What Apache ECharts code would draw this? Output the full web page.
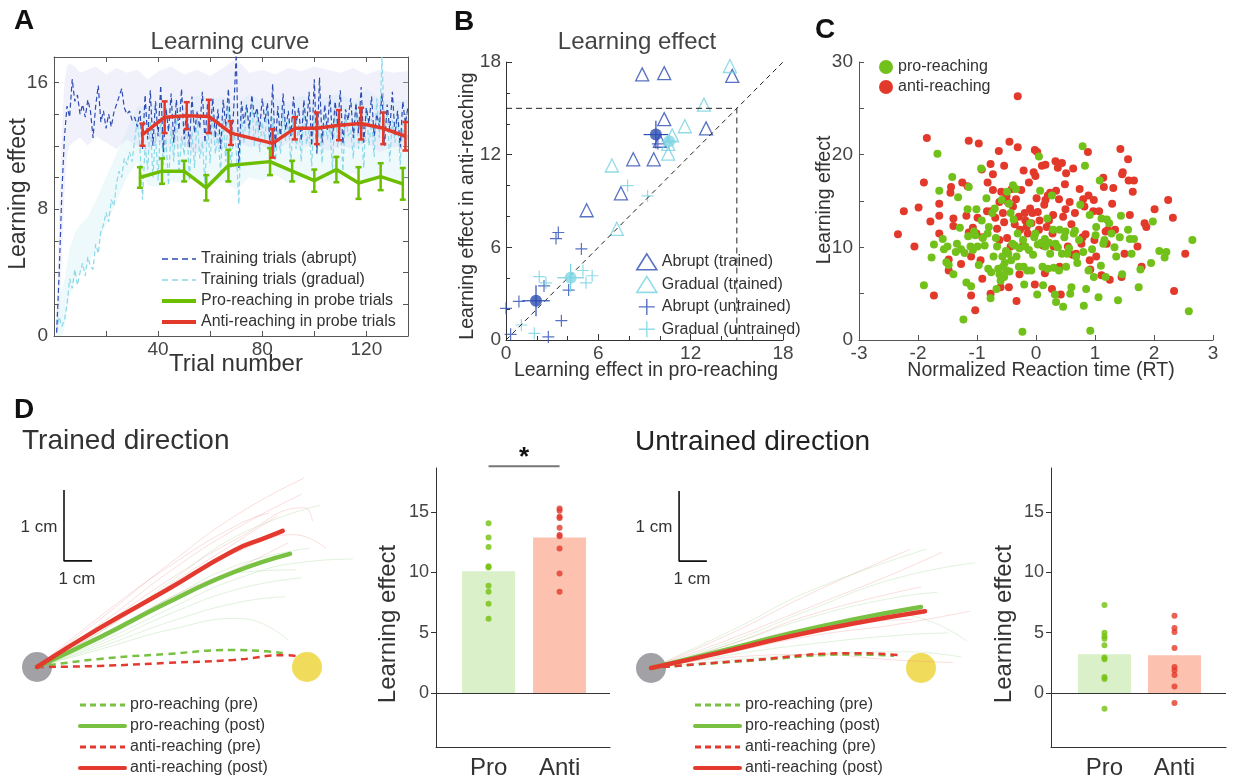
<!DOCTYPE html>
<html><head><meta charset="utf-8">
<script src="https://cdn.jsdelivr.net/npm/echarts@6/dist/echarts.min.js"></script>
<style>html,body{margin:0;padding:0;background:#fff}#c{width:1234px;height:782px}</style>
</head><body><div id="c"></div>
<script>
const FONT = "'Liberation Sans', Arial, Helvetica, sans-serif";
// ---------- Panel A data ----------
const trainAbrupt = [0.2,4.0,9.0,12.5,14.5,13.8,16.2,14.8,15.2,14.0,
14.6,13.8,14.9,14.2,12.5,14.5,15.8,13.5,14.2,13.1,
14.0,13.2,14.1,14.6,15.1,15.6,14.4,14.0,14.2,13.6,
13.8,13.2,14.2,11.8,15.2,12.4,15.5,12.0,14.8,12.6,
15.8,11.6,14.4,12.9,15.3,12.2,14.9,13.0,15.6,12.4,
14.6,11.9,15.1,12.8,14.2,13.1,15.4,12.2,14.7,12.8,
15.0,12.5,14.3,11.8,14.9,13.2,15.6,12.4,14.1,17.8,
10.6,14.8,13.4,14.6,13.1,15.2,13.8,14.4,13.0,15.0,
13.5,14.7,12.1,15.9,11.8,14.5,12.4,15.3,13.0,14.2,
12.6,15.1,13.4,14.4,12.3,14.9,13.1,15.4,12.0,16.2,
11.5,16.3,12.2,14.6,13.0,15.2,12.4,14.8,13.3,15.5,
12.1,14.3,13.6,15.0,12.5,14.7,12.8,15.7,12.2,14.4,
13.4,15.1,12.6,14.0,13.2,15.3,12.0,14.6,13.0,15.4,
12.7,14.2,11.9,14.8,13.4,14.5];
const trainGradual = [0.3,1.2,0.6,1.0,2.0,3.6,3.0,4.2,3.2,4.0,
4.6,3.8,5.0,4.4,4.2,5.8,5.2,6.6,7.0,7.8,
7.2,8.6,8.2,9.6,10.4,10.0,11.2,10.8,11.6,11.0,
12.4,13.6,12.0,8.6,12.0,10.5,13.5,10.0,12.8,9.8,
13.8,10.8,12.5,9.5,13.2,11.0,14.2,10.2,12.6,11.4,
13.6,9.8,12.9,10.6,13.9,11.2,12.3,9.6,13.4,10.9,
14.0,11.5,12.8,10.3,13.7,11.0,14.4,10.6,13.0,11.8,
8.3,14.0,12.2,14.4,12.6,14.8,12.0,14.2,11.6,13.5,
12.4,14.6,11.2,13.8,10.8,13.1,11.5,14.3,12.3,13.6,
10.9,14.1,11.8,13.3,11.0,14.5,12.1,13.0,10.7,14.2,
11.6,13.4,10.9,14.0,12.4,13.2,10.5,14.6,11.9,13.5,
10.4,14.1,12.6,13.0,11.2,14.7,11.8,13.3,10.6,14.4,
12.0,13.7,11.3,15.0,12.5,17.6,12.8,14.2,11.0,13.6,
12.2,14.0,10.8,13.4,11.7,12.9];
const bandTrials  = [1,2,3,4,5,6,8,10,13,16,20,24,28,32,36,40,45,50,55,60,65,70,75,80,85,90,95,100,105,110,115,120,125,130,136];
const abruptLow   = [0,1,5,9,11.5,12,12.3,12.5,12.0,12.6,12.2,11.8,12.4,12.0,11.6,12.2,11.8,12.0,11.5,12.1,11.8,12.3,11.9,12.0,11.6,12.2,11.9,12.1,11.7,12.0,11.8,12.2,11.6,11.9,12.0];
const abruptHigh  = [1,8,13,16,17,17.2,17.0,16.6,16.8,17.0,16.5,16.9,16.6,16.8,16.2,16.7,17.0,16.5,16.8,16.4,16.9,17.5,16.6,16.8,16.5,16.9,16.7,17.0,16.8,16.6,16.9,16.5,16.8,16.6,16.7];
const gradualLow  = [0,0,0,0.5,1.5,2.5,3.5,4,4.5,5.5,7,8.5,10,11,9.5,9.4,9.8,9.6,10.0,9.5,9.8,9.2,10.0,9.8,10.2,9.6,9.9,10.1,9.7,9.9,10.3,9.8,10.0,9.7,9.9];
const gradualHigh = [1.5,2.5,3,3.5,4.5,5.5,6.5,7,7.5,8.5,10,11.5,13,14.5,14.5,14.8,15.0,14.6,15.2,14.9,15.1,14.6,15.3,14.8,15.0,14.7,15.2,14.9,15.1,15.3,14.8,15.6,15.0,14.8,14.9];
const proProbeTrials  = [33,41.5,50,58.5,67,83,91.5,100,108.5,117,125.5,134];
const proProbe        = [10.0,10.4,10.4,9.35,10.75,11.0,10.4,9.8,10.5,9.65,10.05,9.6];
const proProbeErr     = [0.65,0.8,0.65,0.8,1.0,0.85,0.65,0.7,0.8,1.0,0.85,1.0];
const antiProbeTrials = [34,42.5,51,59.5,68,84,92.5,101,109.5,118,126.5,135];
const antiProbe       = [12.7,13.8,13.9,13.85,12.8,12.15,13.1,13.1,13.3,13.4,13.1,12.6];
const antiProbeErr    = [0.7,1.0,0.85,1.05,0.75,0.9,0.7,1.0,0.95,1.0,1.0,0.9];

// ---------- Panel B data ----------
const abruptTrained = [[8.85,17.2],[10.28,17.28],[14.7,17.1],[10.28,14.3],[13.0,13.7],[10.0,12.9],[8.27,11.7],[9.6,11.7],[7.47,9.5],[5.24,8.4]];
const gradualTrained = [[14.55,17.74],[12.86,15.24],[11.62,13.84],[10.8,13.25],[10.54,12.7],[10.54,12.07],[6.88,11.3],[7.2,7.2]];
const abruptUntrained = [[0.0,2.05],[0.3,0.37],[0.84,2.5],[2.47,3.5],[3.4,6.96],[3.25,6.57],[4.9,5.9],[4.07,3.23],[3.6,1.25],[2.75,0.2],[9.87,12.7]];
const gradualUntrained = [[7.9,10.0],[9.2,9.33],[2.16,4.1],[2.6,3.7],[5.0,4.5],[5.6,4.16],[5.2,3.7],[1.84,0.43],[1.0,0.97]];
const abruptMeans  = [[9.74,13.3,0.8,0.9],[1.95,2.54,0.9,1.0]];   // x, y, xErr, yErr
const gradualMeans = [[10.6,12.87,0.5,0.5],[4.2,4.03,0.87,0.9]];
const diagLine = [[0,0],[18,18]];
const refLine  = [[0,15],[15,15],[15,0]];

// ---------- Panel C data ----------
const proRT = [[-1.90,5.9],[-1.77,8.9],[-1.73,10.3],[-1.67,20.1],[-1.64,16.1],[-1.58,10.9],[-1.56,9.8],[-1.52,8.4],[-1.50,10.1],[-1.48,8.1],[-1.42,17.6],[-1.40,7.1],[-1.36,9.5],[-1.34,10.4],[-1.32,15.4],[-1.29,12.1],[-1.27,9.8],[-1.23,2.2],[-1.21,9.4],[-1.18,6.2],[-1.16,14.1],[-1.15,11.2],[-1.14,16.5],[-1.11,10.1],[-1.10,5.8],[-1.07,9.7],[-1.05,11.7],[-1.03,11.3],[-1.01,14.1],[-0.99,10.1],[-0.97,8.1],[-0.93,18.5],[-0.92,12.9],[-0.90,11.0],[-0.87,10.2],[-0.84,15.3],[-0.82,11.5],[-0.81,7.7],[-0.80,12.2],[-0.77,4.5],[-0.76,7.3],[-0.74,13.7],[-0.72,9.0],[-0.70,14.2],[-0.68,11.0],[-0.67,5.5],[-0.66,10.1],[-0.64,7.7],[-0.62,7.1],[-0.60,6.4],[-0.58,15.1],[-0.57,9.0],[-0.56,7.9],[-0.54,6.8],[-0.53,8.3],[-0.51,9.6],[-0.50,7.5],[-0.49,16.0],[-0.47,9.3],[-0.46,14.7],[-0.45,7.4],[-0.43,13.7],[-0.42,8.6],[-0.40,10.4],[-0.39,16.7],[-0.38,13.0],[-0.36,10.2],[-0.34,16.3],[-0.33,9.0],[-0.31,11.5],[-0.29,7.9],[-0.28,9.9],[-0.23,0.9],[-0.22,10.8],[-0.21,7.9],[-0.20,6.0],[-0.18,10.1],[-0.15,7.5],[-0.12,9.7],[-0.10,12.6],[-0.08,7.5],[-0.05,9.2],[-0.03,11.1],[-0.01,11.5],[0.02,4.9],[0.03,10.3],[0.05,19.8],[0.07,16.1],[0.09,10.5],[0.11,7.9],[0.12,5.9],[0.15,10.9],[0.16,10.1],[0.19,13.1],[0.20,7.7],[0.22,10.5],[0.24,9.3],[0.27,15.6],[0.29,11.9],[0.30,7.8],[0.32,4.9],[0.33,10.4],[0.34,4.1],[0.37,10.0],[0.39,7.5],[0.40,11.9],[0.44,9.3],[0.46,3.6],[0.48,11.1],[0.50,11.7],[0.51,7.9],[0.53,9.3],[0.56,9.9],[0.58,5.0],[0.60,5.7],[0.64,11.5],[0.66,11.8],[0.68,9.0],[0.70,8.3],[0.73,10.8],[0.75,14.6],[0.79,20.9],[0.80,9.5],[0.81,3.7],[0.83,18.8],[0.85,5.5],[0.89,7.5],[0.91,13.5],[0.92,1.0],[0.95,9.8],[0.98,6.8],[1.01,11.3],[1.02,12.2],[1.06,4.6],[1.08,17.2],[1.10,8.0],[1.11,13.1],[1.14,10.4],[1.16,10.8],[1.18,6.8],[1.20,13.0],[1.24,12.6],[1.28,11.5],[1.33,10.0],[1.36,9.0],[1.39,4.3],[1.42,11.1],[1.44,13.4],[1.46,7.1],[1.56,11.9],[1.59,10.9],[1.62,9.3],[1.66,10.9],[1.74,5.7],[1.77,7.6],[1.95,8.3],[1.98,12.8],[2.09,9.6],[2.18,8.9],[2.21,9.5],[2.59,3.1],[2.65,10.8]];
const antiRT = [[-2.34,11.4],[-2.24,13.9],[-2.06,10.1],[-1.99,14.3],[-1.90,17.0],[-1.85,21.8],[-1.79,12.8],[-1.73,4.8],[-1.64,14.7],[-1.64,11.5],[-1.64,13.4],[-1.48,8.7],[-1.48,7.5],[-1.45,15.9],[-1.44,16.5],[-1.40,13.1],[-1.40,12.3],[-1.27,8.2],[-1.25,17.0],[-1.18,13.4],[-1.16,16.6],[-1.14,21.5],[-1.14,11.6],[-1.10,9.0],[-1.10,4.8],[-1.07,12.1],[-1.03,3.2],[-1.01,11.5],[-0.99,13.2],[-0.97,21.2],[-0.94,8.6],[-0.92,18.4],[-0.91,6.6],[-0.91,11.1],[-0.83,13.9],[-0.82,17.0],[-0.77,19.0],[-0.77,5.0],[-0.76,13.9],[-0.73,17.9],[-0.73,16.2],[-0.69,13.2],[-0.66,12.0],[-0.63,20.4],[-0.62,14.9],[-0.62,10.8],[-0.60,5.7],[-0.59,16.0],[-0.56,13.7],[-0.54,18.8],[-0.54,12.7],[-0.51,15.1],[-0.50,15.5],[-0.49,11.0],[-0.47,14.8],[-0.46,5.7],[-0.45,21.4],[-0.43,10.1],[-0.41,16.3],[-0.39,14.4],[-0.36,12.5],[-0.34,15.2],[-0.33,4.2],[-0.31,26.3],[-0.31,20.8],[-0.29,13.3],[-0.28,7.1],[-0.27,11.9],[-0.25,16.2],[-0.22,10.2],[-0.21,18.3],[-0.19,13.7],[-0.18,12.9],[-0.16,12.2],[-0.14,11.5],[-0.12,17.0],[-0.10,14.2],[-0.08,12.6],[-0.06,13.7],[-0.04,18.1],[-0.02,20.5],[-0.02,6.0],[-0.01,17.7],[0.01,15.3],[0.02,20.3],[0.03,13.8],[0.05,11.9],[0.06,12.9],[0.10,18.8],[0.12,10.2],[0.14,14.6],[0.15,7.2],[0.16,18.9],[0.16,15.1],[0.18,12.2],[0.20,15.6],[0.22,12.9],[0.24,15.9],[0.27,5.5],[0.28,11.5],[0.29,13.5],[0.30,10.1],[0.33,19.3],[0.34,16.1],[0.37,18.6],[0.39,15.2],[0.40,7.9],[0.42,4.9],[0.44,19.1],[0.46,13.3],[0.49,16.8],[0.50,14.1],[0.51,18.0],[0.54,10.1],[0.57,14.9],[0.60,12.5],[0.62,9.2],[0.63,18.5],[0.66,13.7],[0.68,9.3],[0.74,16.3],[0.77,10.4],[0.79,11.1],[0.80,15.2],[0.82,14.4],[0.84,11.4],[0.88,20.3],[0.89,15.6],[0.91,8.6],[0.92,7.6],[0.97,13.9],[0.98,15.1],[0.99,10.8],[1.02,9.0],[1.07,13.9],[1.11,7.0],[1.14,17.5],[1.15,16.5],[1.18,11.7],[1.20,10.4],[1.22,11.9],[1.25,6.5],[1.29,14.7],[1.31,16.4],[1.34,11.9],[1.43,20.6],[1.45,6.8],[1.46,17.9],[1.47,18.1],[1.50,9.3],[1.56,19.5],[1.57,17.2],[1.59,13.5],[1.64,16.0],[1.66,17.2],[1.72,10.1],[1.79,7.9],[1.84,12.6],[1.87,12.2],[2.01,14.1],[2.24,15.1],[2.32,13.2],[2.34,5.3],[2.53,9.3]];

// ---------- Panel D data (trajectories, arbitrary units; target at 10) ----------
const startPos = [[0,0]];
const targetPos = [[10,0]];
const trainedProPre   = [[0,0],[2.33,0.3],[4.8,0.48],[7.26,0.63],[8.5,0.58],[9.1,0.52]];
const trainedProPost  = [[0,0],[2.33,1.1],[4.8,2.37],[7.26,3.5],[9.37,4.19]];
const trainedAntiPre  = [[0,0],[2.33,0.04],[4.8,0.15],[7.26,0.26],[9.26,0.44],[9.74,0.37]];
const trainedAntiPost = [[0,0],[2.33,1.45],[4.8,2.85],[7.26,4.3],[8.5,4.8],[9.1,5.04]];
const trainedFaintAnti = [
 [[0,0],[2.5,1.9],[5,3.9],[7.5,5.7],[9.9,7.0]],
 [[0,0],[2.5,1.7],[5,3.6],[7.5,5.2],[9.8,6.4]],
 [[0,0],[2.5,1.6],[5,3.3],[7.5,4.8],[9.9,5.9],[10.2,5.4]],
 [[0,0],[2.5,1.2],[5,2.6],[7.5,3.7],[9.3,4.6]],
 [[0,0],[2.5,1.5],[5,3.0],[7.5,4.3],[9.5,4.9],[10.7,4.4]],
 [[0,0],[2.5,1.4],[5,3.1],[7.5,4.7],[8.9,5.6]],
 [[0,0],[2.5,2.0],[5,3.8],[7.5,5.3],[8.6,5.7]]];
const trainedFaintPro = [
 [[0,0],[2.5,1.4],[5,3.2],[7.5,4.9],[10.5,6.0]],
 [[0,0],[2.5,1.0],[5,2.2],[7.5,3.3],[10,3.9],[11.7,4.0]],
 [[0,0],[2.5,0.7],[5,1.4],[7.5,1.8],[9.3,1.0]],
 [[0,0],[2.5,0.9],[5,2.0],[7.5,2.9],[9.8,3.3]],
 [[0,0],[2.5,0.8],[5,1.7],[7.5,2.4],[9.2,2.6]],
 [[0,0],[2.5,1.2],[5,2.6],[7.5,3.8],[10.1,4.4]],
 [[0,0],[2.5,1.1],[5,2.4],[7.5,3.5],[9.6,3.6]]];
const untrainedProPre   = [[0,0],[3.8,0.28],[7.5,0.5],[9.0,0.45]];
const untrainedProPost  = [[0,0],[2.5,0.6],[5.04,1.25],[7.5,1.8],[10.0,2.26]];
const untrainedAntiPre  = [[0,0],[3.8,0.3],[7.5,0.55],[9.2,0.48]];
const untrainedAntiPost = [[0,0],[2.5,0.55],[5.04,1.15],[7.5,1.65],[10.15,2.1]];
const untrainedFaintAnti = [
 [[0,0],[3,1.3],[6,2.8],[9.6,4.4]],
 [[0,0],[3,1.1],[6,2.3],[9,3.5],[10.8,4.3]],
 [[0,0],[3,0.8],[6,1.5],[9.7,1.8]],
 [[0,0],[3,0.4],[6,0.5],[9,0.3],[11.2,0.2]],
 [[0,0],[3,0.9],[6,2.0],[10,3.0]],
 [[0,0],[3,0.6],[6,1.2],[9,1.6],[11.8,2.1]]];
const untrainedFaintPro = [
 [[0,0],[3,1.4],[6,2.9],[10.2,4.4]],
 [[0,0],[3,1.0],[6,2.2],[9,3.3],[12,3.9]],
 [[0,0],[3,0.7],[6,1.4],[9,2.0],[11.7,1.0]],
 [[0,0],[3,0.5],[6,0.9],[9,1.2],[11.0,1.3]],
 [[0,0],[3,0.9],[6,1.9],[9,2.6],[10.6,2.8]],
 [[0,0],[3,0.3],[6,0.5],[9.5,0.6],[11.5,0.4]]];
const trainedScaleBar   = [[1.0,6.56],[1.0,3.93],[2.04,3.93]];
const untrainedScaleBar = [[1.04,6.56],[1.04,3.96],[2.07,3.96]];

// ---------- Panel D bar data ----------
const barCats = ['Pro','Anti'];
const trainedMeans = [10.1, 12.9];
const trainedProDots  = [14.07,12.9,12.1,10.5,10.4,8.9,8.4,7.4,6.15];
const trainedAntiDots = [15.3,15.1,14.6,14.5,13.7,13.1,13.0,11.98,9.9,8.4];
const untrainedMeansBar = [3.22, 3.14];
const untrainedProDots  = [7.3,5.0,4.7,4.5,3.96,2.95,2.8,1.34,1.17,-1.31];
const untrainedAntiDots = [6.4,5.4,5.05,3.74,2.16,1.89,1.5,0.55,-0.82];
const sigLevel = 18.8;
const barTicks = [0,5,10,15];

// ---------- colours ----------
const GREEN = '#72c11a', RED = '#e2392b', BLUE = '#2d4db3', CYAN = '#74d2e0';
const trials = trainAbrupt.map((_, i) => i + 1);

const chart = echarts.init(document.getElementById('c'), null, {renderer: 'canvas'});

function axisFont(size, color) { return {fontSize: size, color: color || '#444', fontFamily: FONT}; }

const grid = [
  {left: 54, top: 57, width: 354, height: 279},        // A
  {left: 506, top: 62, width: 277, height: 278},       // B
  {left: 859, top: 62, width: 354, height: 278},       // C
  {left: 10, top: 451, width: 351, height: 256.5},     // D trained traj
  {left: 436, top: 468, width: 174, height: 279},      // D trained bars
  {left: 624, top: 452, width: 351, height: 256.5},    // D untrained traj
  {left: 1051, top: 468, width: 175, height: 279}      // D untrained bars
];
const AC = '#555';
const hiddenAxis = (g, min, max) => ({gridIndex: g, type: 'value', min, max, show: false});
const line = (c) => ({onZero: false, lineStyle: {color: c}});
const xAxis = [
  {gridIndex: 0, type: 'value', min: 0, max: 136, interval: 20, position: 'bottom',
   axisLine: line(AC), axisTick: {inside: true, length: 5, lineStyle: {color: AC}},
   axisLabel: Object.assign({margin: 4, formatter: v => (v > 0 && v % 40 === 0) ? String(v) : ''}, axisFont(19)),
   splitLine: {show: false}},
  {gridIndex: 0, type: 'value', min: 0, max: 136, interval: 20, position: 'top',
   axisLine: line(AC), axisTick: {inside: true, length: 5, lineStyle: {color: AC}},
   axisLabel: {show: false}, splitLine: {show: false}},
  {gridIndex: 1, type: 'value', min: 0, max: 18, interval: 6,
   axisLine: line('#333'), axisTick: {inside: true, length: 6, lineStyle: {color: '#333'}},
   minorTick: {show: true, splitNumber: 3, length: 4, lineStyle: {color: '#333'}},
   axisLabel: Object.assign({margin: 4}, axisFont(19)), splitLine: {show: false}},
  {gridIndex: 2, type: 'value', min: -3, max: 3, interval: 1,
   axisLine: line(AC), axisTick: {inside: true, length: 5, lineStyle: {color: AC}},
   axisLabel: Object.assign({margin: 4}, axisFont(19)), splitLine: {show: false}},
  hiddenAxis(3, -1, 12),
  {gridIndex: 4, type: 'value', min: 0.26, max: 2.71,
   axisLine: line('#333'), axisTick: {show: false},
   axisLabel: Object.assign({margin: 9, customValues: [1, 2], formatter: v => barCats[Math.round(v) - 1] || ''}, axisFont(24, '#333')),
   splitLine: {show: false}},
  hiddenAxis(5, -1, 12),
  {gridIndex: 6, type: 'value', min: 0.236, max: 2.736,
   axisLine: line('#333'), axisTick: {show: false},
   axisLabel: Object.assign({margin: 9, customValues: [1, 2], formatter: v => barCats[Math.round(v) - 1] || ''}, axisFont(24, '#333')),
   splitLine: {show: false}}
];
const barY = (g) => ({gridIndex: g, type: 'value', min: -4.47, max: 18.65,
  axisLine: {show: true, onZero: false, lineStyle: {color: '#333'}}, axisTick: {show: true, length: 5, customValues: barTicks, lineStyle: {color: '#333'}},
  axisLabel: Object.assign({margin: 7, customValues: barTicks}, axisFont(18)), splitLine: {show: false}});
const yAxis = [
  {gridIndex: 0, type: 'value', min: 0, max: 17.6, interval: 2, position: 'left',
   axisLine: line(AC), axisTick: {inside: true, length: 5, lineStyle: {color: AC}},
   axisLabel: Object.assign({margin: 6, formatter: v => (v % 8 === 0) ? String(v) : ''}, axisFont(19)), splitLine: {show: false}},
  {gridIndex: 0, type: 'value', min: 0, max: 17.6, interval: 2, position: 'right',
   axisLine: line(AC), axisTick: {inside: true, length: 5, lineStyle: {color: AC}},
   axisLabel: {show: false}, splitLine: {show: false}},
  {gridIndex: 1, type: 'value', min: 0, max: 18, interval: 6,
   axisLine: line('#333'), axisTick: {inside: true, length: 6, lineStyle: {color: '#333'}},
   minorTick: {show: true, splitNumber: 3, length: 4, lineStyle: {color: '#333'}},
   axisLabel: Object.assign({margin: 5}, axisFont(19)), splitLine: {show: false}},
  {gridIndex: 2, type: 'value', min: 0, max: 30, interval: 10,
   axisLine: line(AC), axisTick: {inside: true, length: 5, lineStyle: {color: AC}},
   minorTick: {show: true, splitNumber: 2, length: 5, lineStyle: {color: AC}},
   axisLabel: Object.assign({margin: 6}, axisFont(19)), splitLine: {show: false}},
  hiddenAxis(3, -1.5, 8),
  barY(4),
  hiddenAxis(5, -1.5, 8),
  barY(6)
];

const series = [];
// ---- Panel A ----
function band(xs, lo, hi, color) {
  return {type: 'custom', xAxisIndex: 0, yAxisIndex: 0, silent: true, z: 1, clip: true,
    data: xs.map((x, i) => [x, lo[i], hi[i]]),
    renderItem: (params, api) => {
      if (params.dataIndex !== 0) return null;
      const pts = [];
      for (let i = 0; i < xs.length; i++) pts.push(api.coord([xs[i], lo[i]]));
      for (let i = xs.length - 1; i >= 0; i--) pts.push(api.coord([xs[i], hi[i]]));
      return {type: 'polygon', shape: {points: pts}, style: {fill: color}};
    }};
}
function errBars(xi, yi, xs, vals, errs, color, cap, lw) {
  return {type: 'custom', xAxisIndex: xi, yAxisIndex: yi, silent: true, z: 6,
    data: xs.map((x, i) => [x, vals[i] - errs[i], vals[i] + errs[i]]),
    renderItem: (params, api) => {
      const a = api.coord([api.value(0), api.value(1)]), b = api.coord([api.value(0), api.value(2)]);
      const st = {stroke: color, lineWidth: lw};
      return {type: 'group', children: [
        {type: 'line', shape: {x1: a[0], y1: a[1], x2: b[0], y2: b[1]}, style: st},
        {type: 'line', shape: {x1: a[0] - cap, y1: a[1], x2: a[0] + cap, y2: a[1]}, style: st},
        {type: 'line', shape: {x1: b[0] - cap, y1: b[1], x2: b[0] + cap, y2: b[1]}, style: st}]};
    }};
}
series.push(band(bandTrials, gradualLow, gradualHigh, 'rgba(205,238,246,0.35)'));
series.push(band(bandTrials, abruptLow, abruptHigh, 'rgba(215,215,245,0.35)'));
series.push({name: 'Training trials (gradual)', type: 'line', xAxisIndex: 0, yAxisIndex: 0, symbol: 'none', z: 2,
  data: trials.map((t, i) => [t, trainGradual[i]]), lineStyle: {color: '#8ad8e8', width: 1.2, type: [5, 3]}, itemStyle: {color: '#8ad8e8'}});
series.push({name: 'Training trials (abrupt)', type: 'line', xAxisIndex: 0, yAxisIndex: 0, symbol: 'none', z: 3,
  data: trials.map((t, i) => [t, trainAbrupt[i]]), lineStyle: {color: BLUE, width: 1.2, type: [5, 3]}, itemStyle: {color: BLUE}});
series.push({name: 'Pro-reaching in probe trials', type: 'line', xAxisIndex: 0, yAxisIndex: 0, symbol: 'none', z: 5,
  data: proProbeTrials.map((t, i) => [t, proProbe[i]]), lineStyle: {color: '#6cbf00', width: 3.5}, itemStyle: {color: '#6cbf00'}});
series.push({name: 'Anti-reaching in probe trials', type: 'line', xAxisIndex: 0, yAxisIndex: 0, symbol: 'none', z: 5,
  data: antiProbeTrials.map((t, i) => [t, antiProbe[i]]), lineStyle: {color: RED, width: 3.5}, itemStyle: {color: RED}});
series.push(errBars(0, 0, proProbeTrials, proProbe, proProbeErr, '#6cbf00', 3, 2.5));
series.push(errBars(0, 0, antiProbeTrials, antiProbe, antiProbeErr, RED, 3, 2.5));

// ---- Panel B ----
const PLUS = 'path://M5,0L5,10M0,5L10,5';
series.push({type: 'line', xAxisIndex: 2, yAxisIndex: 2, symbol: 'none', silent: true, data: diagLine,
  lineStyle: {color: '#222', width: 1, type: [5, 4]}});
series.push({type: 'line', xAxisIndex: 2, yAxisIndex: 2, symbol: 'none', silent: true, data: refLine,
  lineStyle: {color: '#222', width: 1, type: [6, 4]}});
series.push({name: 'Abrupt (trained)', type: 'scatter', xAxisIndex: 2, yAxisIndex: 2, symbol: 'triangle', symbolSize: 13,
  data: abruptTrained, itemStyle: {color: 'rgba(0,0,0,0)', borderColor: BLUE, borderWidth: 1.3}});
series.push({name: 'Gradual (trained)', type: 'scatter', xAxisIndex: 2, yAxisIndex: 2, symbol: 'triangle', symbolSize: 13,
  data: gradualTrained, itemStyle: {color: 'rgba(0,0,0,0)', borderColor: CYAN, borderWidth: 1.3}});
series.push({name: 'Abrupt (untrained)', type: 'scatter', xAxisIndex: 2, yAxisIndex: 2, symbol: PLUS, symbolSize: 12,
  data: abruptUntrained, itemStyle: {color: 'rgba(0,0,0,0)', borderColor: BLUE, borderWidth: 1.2}});
series.push({name: 'Gradual (untrained)', type: 'scatter', xAxisIndex: 2, yAxisIndex: 2, symbol: PLUS, symbolSize: 12,
  data: gradualUntrained, itemStyle: {color: 'rgba(0,0,0,0)', borderColor: CYAN, borderWidth: 1.2}});
function crossErr(data, color) {
  return {type: 'custom', xAxisIndex: 2, yAxisIndex: 2, silent: true, z: 4, data,
    renderItem: (params, api) => {
      const x = api.value(0), y = api.value(1), ex = api.value(2), ey = api.value(3);
      const a = api.coord([x - ex, y]), b = api.coord([x + ex, y]), c = api.coord([x, y - ey]), d = api.coord([x, y + ey]);
      const st = {stroke: color, lineWidth: 1.2};
      return {type: 'group', children: [
        {type: 'line', shape: {x1: a[0], y1: a[1], x2: b[0], y2: b[1]}, style: st},
        {type: 'line', shape: {x1: c[0], y1: c[1], x2: d[0], y2: d[1]}, style: st}]};
    }};
}
series.push(crossErr(abruptMeans, BLUE));
series.push(crossErr(gradualMeans, CYAN));
series.push({type: 'scatter', xAxisIndex: 2, yAxisIndex: 2, symbol: 'circle', symbolSize: 12, z: 5, silent: true,
  data: abruptMeans.map(d => [d[0], d[1]]), itemStyle: {color: BLUE}});
series.push({type: 'scatter', xAxisIndex: 2, yAxisIndex: 2, symbol: 'circle', symbolSize: 12, z: 5, silent: true,
  data: gradualMeans.map(d => [d[0], d[1]]), itemStyle: {color: '#80d6e2'}});

// ---- Panel C ----
series.push({name: 'anti-reaching', type: 'scatter', xAxisIndex: 3, yAxisIndex: 3, symbolSize: 8,
  data: antiRT, itemStyle: {color: RED, opacity: 1}});
series.push({name: 'pro-reaching', type: 'scatter', xAxisIndex: 3, yAxisIndex: 3, symbolSize: 8,
  data: proRT, itemStyle: {color: GREEN, opacity: 1}});

// ---- Panel D trajectories ----
function traj(xi, yi, faintPro, faintAnti, proPre, proPost, antiPre, antiPost, bar) {
  series.push({type: 'scatter', xAxisIndex: xi, yAxisIndex: yi, symbolSize: 30, silent: true, z: 1,
    data: startPos, itemStyle: {color: '#8b8a90'}});
  series.push({type: 'scatter', xAxisIndex: xi, yAxisIndex: yi, symbolSize: 30, silent: true, z: 1,
    data: targetPos, itemStyle: {color: '#ecd232'}});
  faintAnti.forEach(d => series.push({type: 'line', xAxisIndex: xi, yAxisIndex: yi, symbol: 'none', smooth: true, silent: true, z: 2,
    data: d, lineStyle: {color: 'rgba(235,120,120,0.35)', width: 0.7}}));
  faintPro.forEach(d => series.push({type: 'line', xAxisIndex: xi, yAxisIndex: yi, symbol: 'none', smooth: true, silent: true, z: 2,
    data: d, lineStyle: {color: 'rgba(130,200,110,0.35)', width: 0.7}}));
  series.push({name: 'pro-reaching (pre)', type: 'line', xAxisIndex: xi, yAxisIndex: yi, symbol: 'none', smooth: true, z: 3,
    data: proPre, lineStyle: {color: '#78c142', width: 2.5, type: [7, 5]}, itemStyle: {color: '#78c142'}});
  series.push({name: 'anti-reaching (pre)', type: 'line', xAxisIndex: xi, yAxisIndex: yi, symbol: 'none', smooth: true, z: 3,
    data: antiPre, lineStyle: {color: '#e4392e', width: 2.5, type: [7, 5]}, itemStyle: {color: '#e4392e'}});
  series.push({name: 'pro-reaching (post)', type: 'line', xAxisIndex: xi, yAxisIndex: yi, symbol: 'none', smooth: true, z: 4,
    data: proPost, lineStyle: {color: '#78c142', width: 4.5, cap: 'round'}, itemStyle: {color: '#78c142'}});
  series.push({name: 'anti-reaching (post)', type: 'line', xAxisIndex: xi, yAxisIndex: yi, symbol: 'none', smooth: true, z: 5,
    data: antiPost, lineStyle: {color: '#e4392e', width: 4.5, cap: 'round'}, itemStyle: {color: '#e4392e'}});
  series.push({type: 'line', xAxisIndex: xi, yAxisIndex: yi, symbol: 'none', silent: true, z: 5,
    data: bar, lineStyle: {color: '#111', width: 1.6}});
}
traj(4, 4, trainedFaintPro, trainedFaintAnti, trainedProPre, trainedProPost, trainedAntiPre, trainedAntiPost, trainedScaleBar);
traj(6, 6, untrainedFaintPro, untrainedFaintAnti, untrainedProPre, untrainedProPost, untrainedAntiPre, untrainedAntiPost, untrainedScaleBar);

// ---- Panel D bars ----
function bars(xi, yi, means, proDots, antiDots, sig) {
  series.push({type: 'bar', xAxisIndex: xi, yAxisIndex: yi, barWidth: 53, silent: true, z: 2,
    data: [{value: [1, means[0]], itemStyle: {color: '#daf0c9'}}, {value: [2, means[1]], itemStyle: {color: '#fdc1b0'}}],
    markLine: {silent: true, symbol: ['none', 'none'], label: {show: false}, lineStyle: {color: '#333', type: 'solid', width: 1},
      data: [{yAxis: 0}]}});
  series.push({type: 'scatter', xAxisIndex: xi, yAxisIndex: yi, symbolSize: 6, silent: true, z: 4,
    data: proDots.map(v => [1, v]), itemStyle: {color: '#74c10e'}});
  series.push({type: 'scatter', xAxisIndex: xi, yAxisIndex: yi, symbolSize: 6, silent: true, z: 4,
    data: antiDots.map(v => [2, v]), itemStyle: {color: '#e3382a'}});
  if (sig) series.push({type: 'line', xAxisIndex: xi, yAxisIndex: yi, symbol: 'none', silent: true, clip: false,
    data: [[1, sigLevel], [2, sigLevel]], lineStyle: {color: '#777', width: 2}});
}
bars(5, 5, trainedMeans, trainedProDots, trainedAntiDots, true);
bars(7, 7, untrainedMeansBar, untrainedProDots, untrainedAntiDots, false);

// ---- text ----
function txt(text, x, y, size, o) {
  o = o || {};
  const al = o.align || 'center';
  return {type: 'text', x, y, rotation: o.rot || 0, silent: true, z: 100,
    style: {text, fill: o.color || '#333', font: (o.weight || 'normal') + ' ' + size + 'px ' + FONT,
      textAlign: al, align: al, textVerticalAlign: 'middle', verticalAlign: 'middle'}};
}
const R = Math.PI / 2;
const graphics = [
  txt('A', 24, 21, 28, {weight: 'bold', color: '#111'}),
  txt('B', 464, 22, 28, {weight: 'bold', color: '#111'}),
  txt('C', 825, 30, 28, {weight: 'bold', color: '#111'}),
  txt('D', 24, 410, 28, {weight: 'bold', color: '#111'}),
  txt('Learning curve', 230, 42, 24, {color: '#444'}),
  txt('Learning effect', 19, 194, 23, {rot: R, color: '#333'}),
  txt('Trial number', 236, 364, 24, {color: '#333'}),
  txt('Learning effect', 637, 42, 24, {color: '#444'}),
  txt('Learning effect in anti-reaching', 468, 206, 19.5, {rot: R, color: '#333'}),
  txt('Learning effect in pro-reaching', 646, 371, 19.5, {color: '#333'}),
  txt('Learning effect', 825, 200, 19.5, {rot: R, color: '#333'}),
  txt('Normalized Reaction time (RT)', 1041, 371, 19.5, {color: '#333'}),
  txt('Trained direction', 22, 441, 28, {align: 'left', color: '#333'}),
  txt('Untrained direction', 635, 442, 28, {align: 'left', color: '#222'}),
  txt('1 cm', 39, 527, 17, {color: '#333'}),
  txt('1 cm', 77, 579, 17, {color: '#333'}),
  txt('1 cm', 654, 527, 17, {color: '#333'}),
  txt('1 cm', 692, 579, 17, {color: '#333'}),
  txt('Learning effect', 388, 624, 24, {rot: R, color: '#333'}),
  txt('Learning effect', 1004, 624, 24, {rot: R, color: '#333'}),
  txt('*', 524, 458, 26, {weight: 'bold', color: '#111'})
];

const legText = (s) => ({fontSize: s, color: '#333', fontFamily: FONT});
const lItem = (name, w, dashed) => ({name, lineStyle: {width: w, type: dashed ? [6, 4] : 'solid'}, itemStyle: {opacity: 0}});
const dLegendData = [lItem('pro-reaching (pre)', 3, true), lItem('pro-reaching (post)', 4, false),
                     lItem('anti-reaching (pre)', 3, true), lItem('anti-reaching (post)', 4, false)];
const option = {
  animation: false,
  backgroundColor: '#fff',
  grid, xAxis, yAxis, series,
  legend: [
    {left: 160, top: 251, padding: 0, orient: 'vertical', itemWidth: 34, itemHeight: 14, itemGap: 5, selectedMode: false,
     itemStyle: {opacity: 0},
     data: [lItem('Training trials (abrupt)', 1.5, true), lItem('Training trials (gradual)', 1.5, true),
            lItem('Pro-reaching in probe trials', 4, false), lItem('Anti-reaching in probe trials', 4, false)],
     textStyle: legText(16)},
    {left: 636, top: 253, padding: 0, orient: 'vertical', itemWidth: 20, itemHeight: 16, itemGap: 5, selectedMode: false,
     data: [
      {name: 'Abrupt (trained)', icon: 'triangle', itemStyle: {color: 'rgba(0,0,0,0)', borderColor: BLUE, borderWidth: 1.6}},
      {name: 'Gradual (trained)', icon: 'triangle', itemStyle: {color: 'rgba(0,0,0,0)', borderColor: CYAN, borderWidth: 1.6}},
      {name: 'Abrupt (untrained)', icon: PLUS, itemStyle: {color: 'rgba(0,0,0,0)', borderColor: BLUE, borderWidth: 1.4}},
      {name: 'Gradual (untrained)', icon: PLUS, itemStyle: {color: 'rgba(0,0,0,0)', borderColor: CYAN, borderWidth: 1.4}}],
     textStyle: legText(16)},
    {left: 879, top: 59, padding: 0, orient: 'vertical', itemWidth: 14, itemHeight: 14, itemGap: 4, selectedMode: false, icon: 'circle',
     data: ['pro-reaching', 'anti-reaching'], textStyle: legText(16)},
    {left: 78, top: 697, padding: 0, orient: 'vertical', itemWidth: 45, itemHeight: 14, itemGap: 5, selectedMode: false,
     itemStyle: {opacity: 0}, data: dLegendData, textStyle: legText(16)},
    {left: 693, top: 697, padding: 0, orient: 'vertical', itemWidth: 45, itemHeight: 14, itemGap: 5, selectedMode: false,
     itemStyle: {opacity: 0}, data: dLegendData, textStyle: legText(16)}
  ],
  graphic: {elements: graphics}
};
chart.setOption(option);
</script></body></html>
